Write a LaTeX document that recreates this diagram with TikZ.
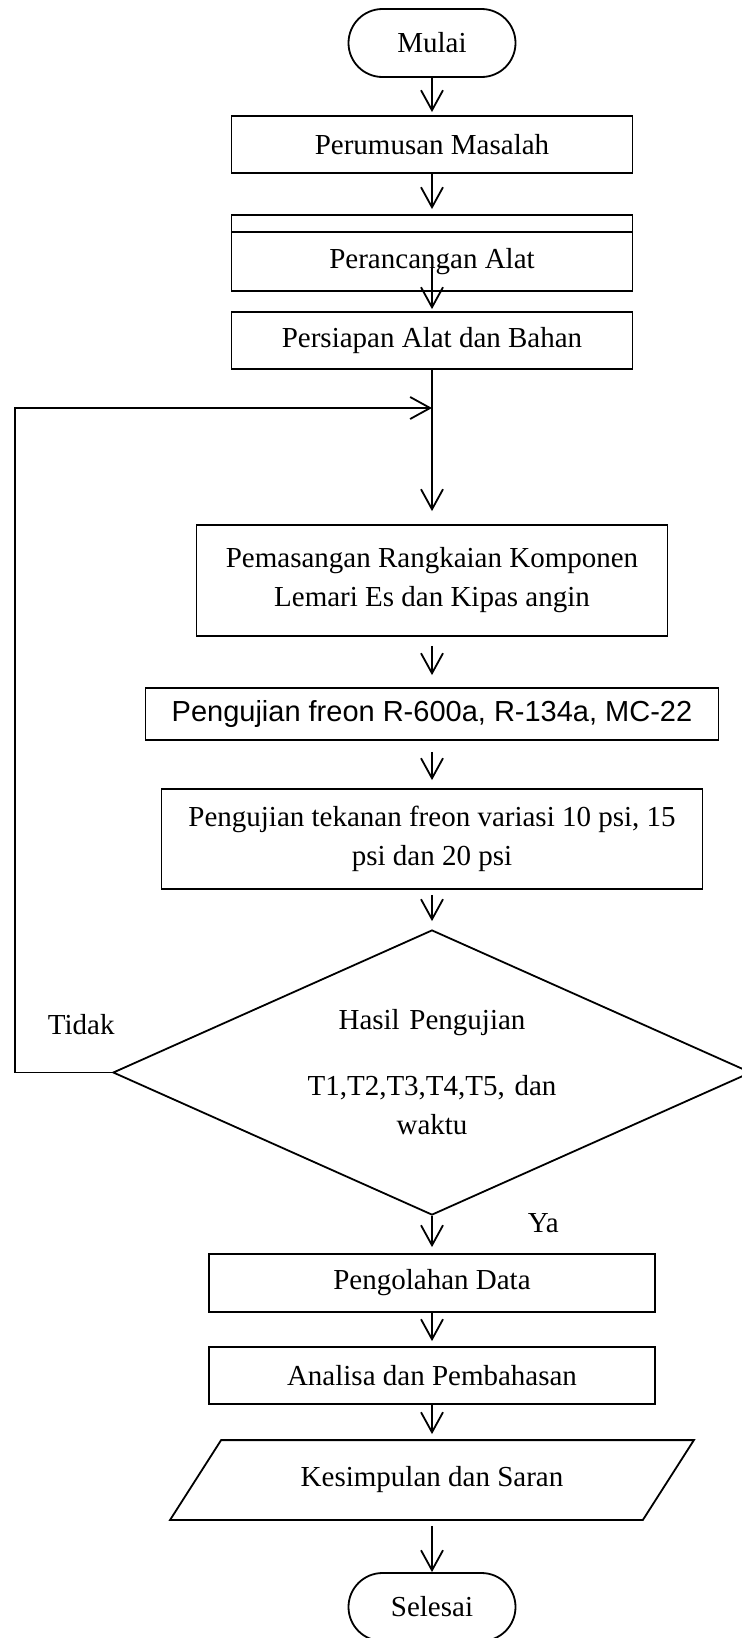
\documentclass[tikz,border=0pt]{standalone}
\usepackage{fontspec}
\setmainfont{Liberation Serif}
\setsansfont{Liberation Sans}
\usetikzlibrary{shapes.geometric,arrows.meta,positioning}
\tikzstyle{terminal} = [rectangle, draw, rounded corners=17pt,
    minimum width=83.5pt, minimum height=34pt]
\tikzstyle{block} = [rectangle, draw, align=center, minimum height=28.5pt]
\tikzstyle{decision} = [diamond, draw, aspect=2.24, text width=130pt,
    align=center, minimum width=319pt, minimum height=142.5pt, inner sep=0pt]
\tikzstyle{io} = [rectangle, minimum width=235.5pt, minimum height=39pt]
\tikzstyle{line} = [draw, -{Straight Barb[length=10pt,width=11pt]}]
\tikzstyle{tag} = [inner sep=0pt]

\begin{document}
\begin{tikzpicture}[node distance=50pt, line width=0.9pt,
    font=\fontsize{14.5}{19.5}\selectfont]
 \useasboundingbox (0,0) rectangle (371pt,-819pt);
 \node[terminal] (init) at (216pt,-21.5pt) {Mulai};
 \node[block, below of=init, node distance=50.75pt, minimum width=200.5pt] (problem) {Perumusan Masalah};
 \node[block, below of=problem, node distance=58.5pt, minimum width=200.5pt, minimum height=29.5pt] (design) {Perancangan Alat};
 \node[block, above of=design, node distance=19pt, minimum width=200.5pt, minimum height=8.5pt, inner sep=0pt] (designtop) {};
 \node[block, below of=design, node distance=39.5pt, minimum width=200.5pt] (prep) {Persiapan Alat dan Bahan};
 \coordinate[below of=prep, node distance=33.75pt] (join);
 \node[block, below of=prep, node distance=120pt, minimum width=235.5pt, minimum height=55.5pt] (install) {Pemasangan Rangkaian Komponen\\Lemari Es dan Kipas angin};
 \node[block, below of=install, node distance=66.75pt, minimum width=286.5pt, minimum height=26pt,
    font=\sffamily\fontsize{14.5}{19.5}\selectfont] (freon) {Pengujian freon R-600a, R-134a, MC-22};
 \node[block, below of=freon, node distance=62.5pt, minimum width=270.5pt, minimum height=50pt] (press) {Pengujian tekanan freon variasi 10 psi, 15\\psi dan 20 psi};
 \node[decision, below of=press, node distance=116.75pt] (test) {Hasil Pengujian\\[13.5pt]T1,T2,T3,T4,T5, dan\\waktu};
 \coordinate[left of=test, node distance=208.5pt] (loop);
 \node[block, below of=test, node distance=105.25pt, minimum width=223pt, minimum height=29pt] (process) {Pengolahan Data};
 \node[block, below of=process, node distance=46.25pt, minimum width=223pt] (analysis) {Analisa dan Pembahasan};
 \node[io, below of=analysis, node distance=52.25pt] (result) {Kesimpulan dan Saran};
 \node[terminal, below of=result, node distance=63.5pt] (stop) {Selesai};
 \node[tag, above right=18.5pt and 16pt of loop] (no) {Tidak};
 \node[tag, below right=-1.5pt and 47.5pt of test.south] (yes) {Ya};

 % parallelogram round the conclusion
 \draw ([xshift=12.75pt]result.north west) -- ([xshift=12.75pt]result.north east)
   -- ([xshift=-12.75pt]result.south east) -- ([xshift=-12.75pt]result.south west) -- cycle;

 \path[line, shorten >=1.5pt] (init) -- (problem);
 \path[line, shorten >=2.5pt] (problem) -- (designtop);
 \path[line, shorten <=2.75pt, shorten >=1pt] (design.center) -- (prep);
 \path[draw] (prep) -- (join);
 \path[line, shorten >=6.5pt] (join) -- (install);
 \path[line, shorten <=4.5pt, shorten >=6pt] (install) -- (freon);
 \path[line, shorten <=5.5pt, shorten >=4pt] (freon) -- (press);
 \path[line, shorten <=2.5pt, shorten >=4pt] (press) -- (test);
 \path[line, shorten >=3pt] (test) -- (process);
 \path[line, shorten >=2.5pt] (process) -- (analysis);
 \path[line, shorten >=3pt] (analysis) -- (result);
 \path[line, shorten <=3pt] (result) -- (stop);
 \path[line] (test.west) -- (loop) |- (join);
\end{tikzpicture}
\end{document}
